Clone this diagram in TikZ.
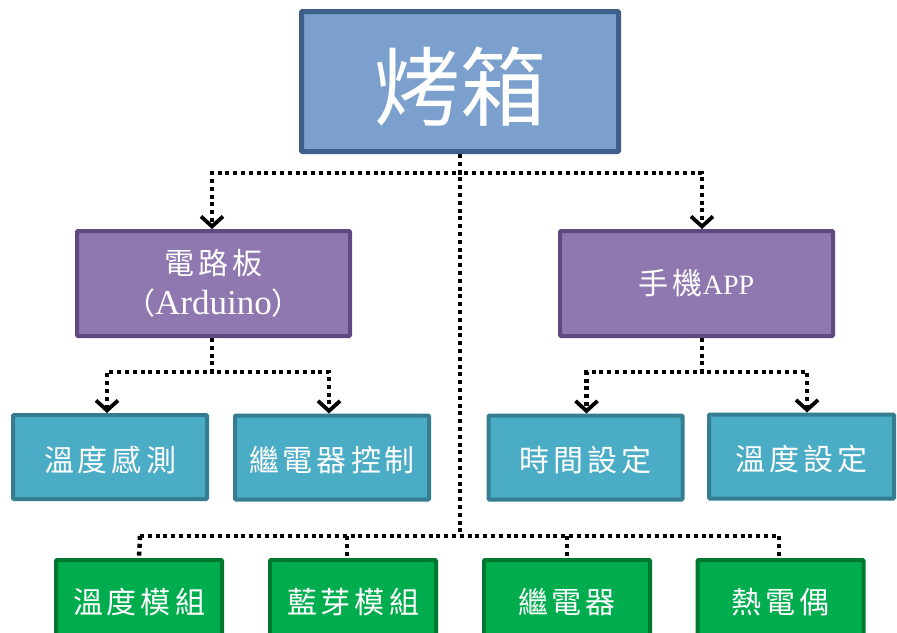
\documentclass[tikz,border=0pt]{standalone}
\usepackage{fontspec}
\setmainfont{Noto Sans CJK TC}
\newfontfamily\latf{Liberation Serif}
\usetikzlibrary{arrows.meta}
\newdimen\lspk \lspk=4pt
\def\lspx#1{\ifx\relax#1\unkern\else#1\kern\lspk\expandafter\lspx\fi}
\newcommand\lsp[1]{\lspx#1\relax}
\definecolor{topfill}{HTML}{7BA0CD}
\definecolor{topline}{HTML}{3E5F8A}
\definecolor{purfill}{HTML}{8F78AF}
\definecolor{purline}{HTML}{5E4A80}
\definecolor{tealfill}{HTML}{4BACC6}
\definecolor{tealline}{HTML}{357E92}
\definecolor{grfill}{HTML}{00AD4E}
\definecolor{grline}{HTML}{00782F}
\begin{document}
\begin{tikzpicture}[x=1pt,y=-1pt,
  box/.style={draw, line width=4pt, text=white, inner sep=0pt, align=center, rounded corners=1pt},
  topbox/.style={box, fill=topfill, draw=topline, line width=5pt, minimum width=317pt, minimum height=140pt, font=\fontsize{86}{86}\selectfont},
  purbox/.style={box, fill=purfill, draw=purline, minimum width=273pt, minimum height=105pt, font=\fontsize{30}{40}\selectfont},
  tealbox/.style={box, fill=tealfill, draw=tealline, minimum width=194pt, minimum height=84pt, font=\fontsize{30}{30}\selectfont},
  grbox/.style={box, fill=grfill, draw=grline, minimum width=166pt, minimum height=84pt, font=\fontsize{30}{30}\selectfont},
  conn/.style={line width=4.5pt, dash pattern=on 4pt off 3.8pt, black},
  arr/.style={conn, -{Straight Barb[length=10pt,width=22pt,line width=3.8pt]}}
]
\clip (0,0) rectangle (897,632);
\fill[white] (0,0) rectangle (897,632);

\node[topbox] (top) at (460,81.5) {\raisebox{-5pt}[\height][\depth]{烤箱}};

\node[purbox] (pl) at (213.5,283.5) {\lsp{電路板}\\（{\latf\fontsize{35}{40}\selectfont Arduino}）};
\node[purbox] (pr) at (696.5,283.5) {\lsp{手機}{\latf\fontsize{28}{30}\selectfont APP}};

\node[tealbox] (t1) at (110,457) {\raisebox{-3pt}[\height][\depth]{\lsp{溫度感測}}};
\node[tealbox] (t2) at (332,457.5) {\raisebox{-3pt}[\height][\depth]{\lsp{繼電器控制}}};
\node[tealbox] (t3) at (585.5,457.5) {\raisebox{-3pt}[\height][\depth]{\lsp{時間設定}}};
\node[tealbox, minimum width=185pt] (t4) at (801.5,456.5) {\raisebox{-3pt}[\height][\depth]{\lsp{溫度設定}}};

\node[grbox] (g1) at (139,602) {\lsp{溫度模組}};
\node[grbox] (g2) at (353,602) {\lsp{藍芽模組}};
\node[grbox] (g3) at (567,602) {\lsp{繼電器}};
\node[grbox] (g4) at (780.5,602) {\lsp{熱電偶}};

\coordinate (busL) at (140,536);
\coordinate (busR) at (779,536);
\coordinate (g2top) at ([xshift=-6pt]g2.north);

% top level
\draw[arr] (top.south) -- ++(0,19) -| ([xshift=-1.5pt]pl.north);
\draw[arr] (top.south) -- ++(0,19) -| ([xshift=5.5pt]pr.north);
\draw[conn] (top.south) -- (top.south |- busL);
\draw[conn] (busL) -- (busR);

% left purple children
\draw[arr] ([xshift=-1.5pt]pl.south) -- ++(0,34) -| ([xshift=-3pt]t1.north);
\draw[arr] ([xshift=-1.5pt]pl.south) -- ++(0,34) -| ([xshift=-3pt]t2.north);

% right purple children
\draw[arr] ([xshift=5.5pt]pr.south) -- ++(0,34) -| ([xshift=1pt]t3.north);
\draw[arr] ([xshift=5.5pt]pr.south) -- ++(0,34) -| ([xshift=5.5pt]t4.north);

% bottom bus drops
\draw[conn] (busL) -- (g1.north);
\draw[conn] (busL -| g2top) -- (g2top);
\draw[conn] (busL -| g3.north) -- (g3.north);
\draw[conn] (busR) -- (busR |- g4.north);
\end{tikzpicture}
\end{document}
